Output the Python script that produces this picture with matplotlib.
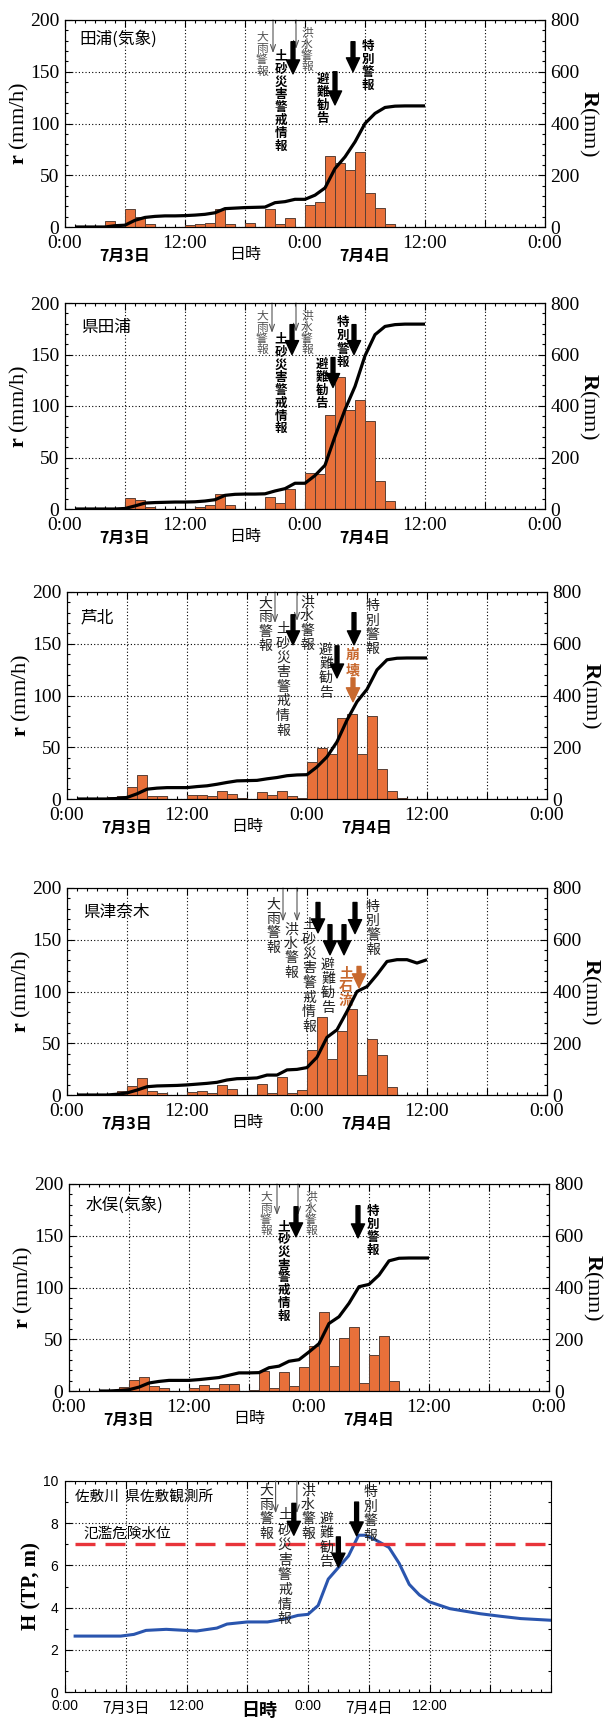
import numpy as np
import matplotlib
matplotlib.use("Agg")
import matplotlib.pyplot as plt
from matplotlib.ticker import MultipleLocator, FuncFormatter

plt.rcParams["font.family"] = ["Liberation Serif", "Noto Sans CJK JP"]
plt.rcParams["mathtext.fontset"] = "custom"
plt.rcParams["mathtext.rm"] = "Liberation Serif"
plt.rcParams["mathtext.bf"] = "Liberation Serif:bold"

JP = ["Noto Sans CJK JP", "DejaVu Sans"]

# ---- hourly rainfall r (mm/h), bar for hour h spans h..h+1 (0 = 7/3 0:00) ----
rain_hours = list(range(36))

rain_tanoura = [0, 0, 0, 0, 6, 0, 17, 10, 3, 0, 0, 0, 2, 3, 4, 17, 3, 0,
                4, 0, 17, 3, 9, 0, 21, 24, 69, 62, 55, 72, 33, 18, 3, 0, 0, 0]
rain_ken_tanoura = [0, 0, 0, 0, 0, 0, 11, 9, 2, 0, 0, 0, 0, 2, 4, 15, 4, 0,
                    0, 0, 12, 6, 19, 0, 35, 34, 91, 128, 96, 106, 85, 27, 8, 0, 0, 0]
rain_ashikita = [0, 0, 0, 0, 1.5, 3, 12, 23, 3, 3, 0, 0, 4, 4, 3, 8, 4.5, 1,
                 0, 7, 4, 8, 3, 1, 36, 49, 43, 78, 82, 43, 80, 29, 8, 0.5, 0, 0]
rain_tsunagi = [0, 0, 0, 0, 0, 4, 9, 16, 4, 2, 0, 0, 2.5, 3.5, 2, 10, 5.5, 0,
                0, 10.5, 1.5, 17, 2, 5, 43, 75, 34.5, 62, 83, 19, 54, 39, 7.5, 0, 0, 0]
rain_minamata = [0, 0, 0, 0, 0, 3.5, 11, 14, 5, 2.5, 0, 0, 2.5, 5.5, 2.5, 7, 7, 0,
                 1, 19.5, 3, 18, 5, 23, 43, 76, 24, 51, 62, 8, 35, 53, 10, 0, 0, 0]

# ---- cumulative rainfall R (mm) at the end of each hour ----
cum_hours = list(range(1, 37))
cum_hours_minamata = list(range(3, 37))

cum_tanoura = [0, 0, 0, 0, 5, 7, 26, 37, 41, 43, 43, 44, 46, 49, 55, 71, 73, 75,
               76, 77, 94, 98, 107, 107, 123, 151, 226, 271, 329, 400, 439, 462, 467,
               468, 468, 468]
cum_ken_tanoura = [0, 0, 0, 0, 0, 2, 12, 23, 25, 26, 27, 27, 28, 31, 36, 53, 57, 58,
                   58, 59, 70, 79, 100, 100, 130, 170, 282, 386, 476, 595, 677, 709, 716,
                   718, 718, 718]
cum_ashikita = [0, 0, 0, 0, 2, 6, 20, 38, 42, 44, 44, 44, 48, 51, 57, 64, 70, 71,
                72, 78, 83, 90, 93, 94, 124, 163, 221, 305, 376, 424, 499, 538, 544,
                545, 545, 545]
cum_tsunagi = [0, 0, 0, 0, 3, 8, 19, 32, 35, 36, 37, 39, 42, 45, 49, 58, 63, 64,
               66, 77, 77, 97, 99, 106, 146, 223, 252, 323, 400, 419, 465, 516, 523,
               523, 510, 523]
cum_minamata = [0, 0, 2, 5, 15, 31, 37, 41, 41, 41, 44, 48, 52, 61, 70, 70, 71, 90,
                96, 115, 121, 151, 183, 261, 287, 339, 403, 412, 448, 503, 513, 514,
                514, 514]

# ---- Sashiki river water level H (TP, m) ----
level_hours = [1, 3, 5.5, 6.8, 8, 10, 13, 15, 16, 18, 20, 21, 22, 23, 24, 25, 26,
               27, 28, 29, 29.7, 30.7, 32, 33, 34, 35, 36, 38, 41, 43, 45, 48]
level_m = [2.65, 2.65, 2.65, 2.73, 2.92, 2.97, 2.89, 3.03, 3.22, 3.32, 3.32, 3.4,
           3.5, 3.63, 3.68, 4.1, 5.35, 5.9, 6.45, 7.43, 7.43, 7.2, 6.85, 6.1, 5.1,
           4.6, 4.27, 3.95, 3.71, 3.59, 3.48, 3.4]
danger_level = 7.0

date_hours = [6, 30]
date_text = ["7月3日", "7月4日"]

BAR = "#E8703A"
EDGE = "#5a4035"
ORANGE = "#C8692E"
GRID = dict(color="black", linestyle=(0, (1, 2)), linewidth=0.8)

W, H = 606, 1720
fig = plt.figure(figsize=(W / 100, H / 100), dpi=100)


def make_axes(l, t, r, b):
    return fig.add_axes([l / W, 1 - b / H, (r - l) / W, (b - t) / H])


def time_axis(ax, last_label=True):
    ax.set_xlim(0, 48)
    ax.xaxis.set_major_locator(MultipleLocator(6))
    ax.xaxis.set_minor_locator(MultipleLocator(1))

    def fmt(v, p):
        if v % 12 == 0 and (last_label or v < 48):
            return f"{int(v) % 24}:00"
        return ""
    ax.xaxis.set_major_formatter(FuncFormatter(fmt))
    ax.grid(True, which="major", **GRID)
    ax.set_axisbelow(True)


def vtext(ax, x, y, s, pitch, **kw):
    # one character per line, stacked downwards from (x, y)
    for i, ch in enumerate(s):
        ax.annotate(ch, (x, y), xytext=(0, -i * pitch), textcoords="offset points",
                    ha="center", va="top", annotation_clip=False, family=JP, **kw)


def thin_arrow(ax, x, y1, top):
    ax.annotate("", xy=(x, y1), xytext=(x, top),
                arrowprops=dict(arrowstyle="->,head_length=0.5,head_width=0.18",
                                color="#555555", lw=0.8, shrinkA=0, shrinkB=0))


def thick_arrow(ax, x, y0, y1, color="black"):
    ax.annotate("", xy=(x, y1), xytext=(x, y0),
                arrowprops=dict(facecolor=color, edgecolor=color, width=2.8,
                                headwidth=9.5, headlength=10, shrink=0))


def rain_panel(box, rain, cx, cum, name, name_xy):
    ax = make_axes(*box)
    ax.bar(rain_hours, rain, width=1, align="edge", color=BAR, edgecolor=EDGE,
           linewidth=0.7, zorder=2)
    ax.set_ylim(0, 200)
    ax.yaxis.set_major_locator(MultipleLocator(50))
    ax.yaxis.set_minor_locator(MultipleLocator(10))
    time_axis(ax)
    ax.tick_params(which="both", direction="in", top=True, right=False,
                   labelsize=14, width=0.8)
    ax.tick_params(which="major", length=5, pad=4)
    ax.tick_params(axis="x", which="major", pad=6)
    ax.tick_params(which="minor", length=2.5)
    ax.set_ylabel(r"$\mathbf{r}$ (mm/h)", fontsize=16, va="center")
    ax.yaxis.set_label_coords(-0.094, 0.5)

    ax2 = ax.twinx()
    ax2.plot(cx, cum, color="black", lw=2.3, solid_capstyle="butt")
    ax2.set_ylim(0, 800)
    ax2.yaxis.set_major_locator(MultipleLocator(200))
    ax2.yaxis.set_minor_locator(MultipleLocator(40))
    ax2.tick_params(which="both", direction="in", labelsize=14, width=0.8)
    ax2.tick_params(which="major", length=5, pad=4)
    ax2.tick_params(which="minor", length=2.5)
    ax2.set_ylabel(r"$\mathbf{R}$(mm)", fontsize=16, rotation=270, va="center")
    ax2.yaxis.set_label_coords(1.09, 0.5)

    ax.text(name_xy[0], name_xy[1], name, family=JP, fontsize=12,
            ha="left", va="center")
    for x, s in zip(date_hours, date_text):
        ax.annotate(s, (x, 0), xycoords=("data", "axes fraction"),
                    xytext=(0, -21), textcoords="offset points",
                    ha="center", va="center", family=JP, fontsize=11.5,
                    fontweight="bold")
    ax.annotate("日時", (18, 0), xycoords=("data", "axes fraction"),
                xytext=(0, -20), textcoords="offset points",
                ha="center", va="center", family=JP, fontsize=11.5)
    return ax


GRAY_KW = dict(fontsize=8.5, color="#555555")
BOLD_KW = dict(fontsize=9, fontweight="bold", color="black")
PLAIN_KW = dict(fontsize=10, color="#222222")
ORANGE_KW = dict(fontsize=10, fontweight="bold", color=ORANGE)

# ===== 田浦(気象) =====
ax = rain_panel((65, 20, 545, 227), rain_tanoura, cum_hours, cum_tanoura,
                "田浦(気象)", (1.4, 182))
vtext(ax, 19.7, 190, "大雨警報", 8.2, **GRAY_KW)
thin_arrow(ax, 20.8, 168, 200)
vtext(ax, 21.6, 171, "土砂災害警戒情報", 9.2, **BOLD_KW)
thin_arrow(ax, 23.1, 172, 200)
thick_arrow(ax, 22.8, 179, 148)
vtext(ax, 24.2, 194, "洪水警報", 8.2, **GRAY_KW)
vtext(ax, 25.8, 149, "避難勧告", 9.4, **BOLD_KW)
thick_arrow(ax, 27.0, 150, 118)
thick_arrow(ax, 28.8, 179, 150)
vtext(ax, 30.3, 181, "特別警報", 9.4, **BOLD_KW)

# ===== 県田浦 =====
ax = rain_panel((65, 303, 545, 509), rain_ken_tanoura, cum_hours, cum_ken_tanoura,
                "県田浦", (1.6, 176))
vtext(ax, 19.7, 194, "大雨警報", 8.2, **GRAY_KW)
thin_arrow(ax, 20.7, 171, 200)
vtext(ax, 21.6, 171, "土砂災害警戒情報", 9.2, **BOLD_KW)
thin_arrow(ax, 23.1, 172, 200)
thick_arrow(ax, 22.7, 179, 150)
vtext(ax, 24.2, 194, "洪水警報", 8.2, **GRAY_KW)
vtext(ax, 27.8, 187, "特別警報", 9.4, **BOLD_KW)
thick_arrow(ax, 28.9, 179, 150)
vtext(ax, 25.7, 147, "避難勧告", 9.4, **BOLD_KW)
thick_arrow(ax, 26.8, 147, 118)

# ===== 芦北 =====
ax = rain_panel((67, 592, 547, 799), rain_ashikita, cum_hours, cum_ashikita,
                "芦北", (1.4, 175))
vtext(ax, 19.8, 196, "大雨警報", 10.3, **PLAIN_KW)
thin_arrow(ax, 20.8, 170, 200)
vtext(ax, 21.6, 171.5, "土砂災害警戒情報", 10.5, **PLAIN_KW)
thin_arrow(ax, 23.0, 172, 200)
thick_arrow(ax, 22.6, 178, 149)
vtext(ax, 24.0, 197, "洪水警報", 10.3, **PLAIN_KW)
vtext(ax, 25.9, 151, "避難勧告", 10.3, **PLAIN_KW)
thick_arrow(ax, 27.0, 148, 117)
thick_arrow(ax, 28.7, 180, 149)
vtext(ax, 30.5, 193, "特別警報", 10.3, **PLAIN_KW)
vtext(ax, 28.6, 146, "崩壊", 11, **ORANGE_KW)
thick_arrow(ax, 28.6, 117, 94, color=ORANGE)

# ===== 県津奈木 =====
ax = rain_panel((67, 888, 547, 1095), rain_tsunagi, cum_hours, cum_tsunagi,
                "県津奈木", (1.6, 176))
vtext(ax, 20.6, 190.6, "大雨警報", 10.3, **PLAIN_KW)
thin_arrow(ax, 21.6, 167.7, 200)
thin_arrow(ax, 23.0, 167.7, 200)
vtext(ax, 22.4, 166.5, "洪水警報", 10.3, **PLAIN_KW)
vtext(ax, 24.2, 171.3, "土砂災害警戒情報", 10.5, **PLAIN_KW)
thick_arrow(ax, 25.1, 186, 156.7)
thick_arrow(ax, 26.3, 164.5, 135.5)
thick_arrow(ax, 27.7, 164.5, 135.5)
thick_arrow(ax, 28.8, 186, 156)
vtext(ax, 30.6, 188.6, "特別警報", 10.3, **PLAIN_KW)
vtext(ax, 26.1, 132.6, "避難勧告", 10.3, **PLAIN_KW)
vtext(ax, 27.9, 124.2, "土石流", 10, **ORANGE_KW)
thick_arrow(ax, 29.2, 124.2, 103.6, color=ORANGE)

# ===== 水俣(気象) =====
ax = rain_panel((69, 1184, 549, 1391), rain_minamata, cum_hours_minamata, cum_minamata,
                "水俣(気象)", (1.7, 180))
vtext(ax, 19.7, 194, "大雨警報", 8.2, **GRAY_KW)
thin_arrow(ax, 20.8, 170, 200)
thin_arrow(ax, 22.9, 170, 200)
vtext(ax, 21.5, 165, "土砂災害警戒情報", 9.2, **BOLD_KW)
thick_arrow(ax, 22.7, 178, 149)
vtext(ax, 24.2, 194, "洪水警報", 8.2, **GRAY_KW)
thick_arrow(ax, 28.9, 179, 148)
vtext(ax, 30.4, 180, "特別警報", 9.4, **BOLD_KW)

# ===== 佐敷川 水位 =====
ax = make_axes(65, 1481, 551, 1692)
ax.plot(level_hours, level_m, color="#2A55AE", lw=2.2)
ax.plot([level_hours[0], 48], [danger_level, danger_level], color="#E8343A",
        lw=2.4, dashes=(6, 3))
ax.set_ylim(0, 10)
ax.yaxis.set_major_locator(MultipleLocator(2))
ax.yaxis.set_minor_locator(MultipleLocator(1))
time_axis(ax, last_label=False)
ax.tick_params(which="both", direction="in", top=True, right=True, width=0.8,
               labelsize=10, labelfontfamily="Liberation Sans")
ax.tick_params(which="major", length=5, pad=5)
ax.tick_params(which="minor", length=2.5)
ax.set_ylabel("H (TP, m)", fontsize=15, fontweight="bold", va="center")
ax.yaxis.set_label_coords(-0.068, 0.5)
ax.text(1.0, 9.2, "佐敷川  県佐敷観測所", family=JP, fontsize=10.5, ha="left", va="center")
ax.text(1.8, 7.5, "氾濫危険水位", family=JP, fontsize=10.5, ha="left", va="center")
for x, s in zip(date_hours, date_text):
    ax.annotate(s, (x, 0), xycoords=("data", "axes fraction"), xytext=(0, -12),
                textcoords="offset points", ha="center", va="center", family=JP,
                fontsize=11)
ax.annotate("日時", (19.2, 0), xycoords=("data", "axes fraction"), xytext=(0, -13),
            textcoords="offset points", ha="center", va="center", family=JP,
            fontsize=13, fontweight="bold")

vtext(ax, 19.9, 9.89, "大雨警報", 10.4, **PLAIN_KW)
thin_arrow(ax, 20.8, 8.47, 10)
thin_arrow(ax, 22.9, 8.47, 10)
vtext(ax, 21.7, 8.7, "土砂災害警戒情報", 10.7, **PLAIN_KW)
thick_arrow(ax, 22.6, 8.94, 7.43)
vtext(ax, 24.0, 9.89, "洪水警報", 10.4, **PLAIN_KW)
vtext(ax, 25.8, 8.53, "避難勧告", 10.4, **PLAIN_KW)
thick_arrow(ax, 27.0, 7.35, 5.92)
thick_arrow(ax, 28.8, 9.0, 7.4)
vtext(ax, 30.2, 9.8, "特別警報", 10.4, **PLAIN_KW)

fig.savefig("out.png", dpi=100)
